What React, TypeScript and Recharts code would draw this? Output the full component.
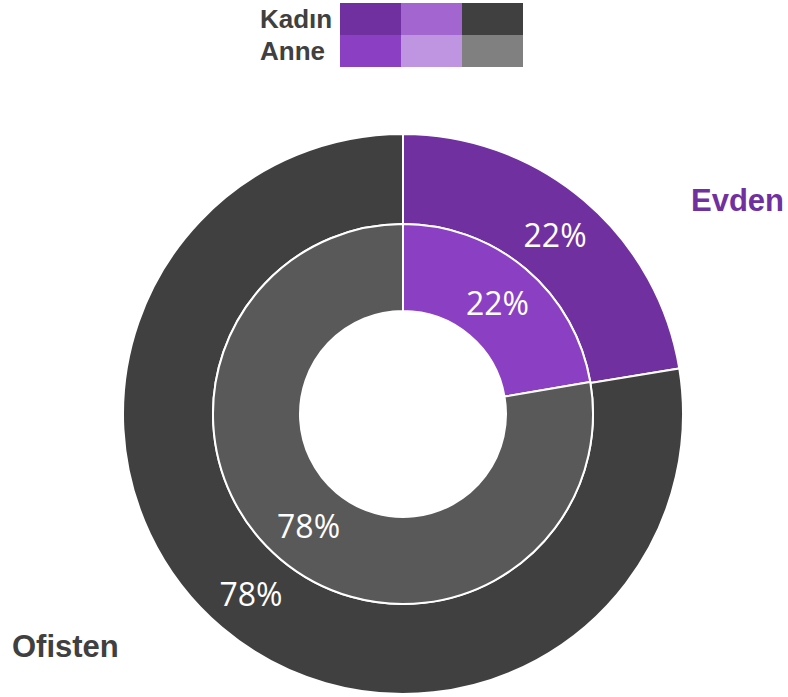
import React from 'react';
import { PieChart, Pie, Cell } from 'recharts';

const categories = ['Evden', 'Ofisten'];
const kadinValues = [22.4, 77.6];
const anneValues = [22.3, 77.7];
const seriesNames = ['Kadın', 'Anne'];

const kadinColors = ['#7030A0', '#A366D1', '#404040'];
const anneColors = ['#8B40C4', '#BF94E0', '#808080'];

const kadinData = categories.map((name, i) => ({ name, value: kadinValues[i] }));
const anneData = categories.map((name, i) => ({ name, value: anneValues[i] }));

const RAD = Math.PI / 180;

const renderPct = (props: any) => {
  const { cx, cy, midAngle, innerRadius, outerRadius, percent } = props;
  const r = (innerRadius + outerRadius) / 2;
  const x = cx + r * Math.cos(-midAngle * RAD);
  const y = cy + r * Math.sin(-midAngle * RAD);
  return (
    <text
      x={x}
      y={y}
      fill="#ffffff"
      textAnchor="middle"
      dominantBaseline="central"
      fontFamily="'Open Sans', sans-serif"
      fontSize={32}
    >
      {`${Math.round(percent * 100)}%`}
    </text>
  );
};

const legendRows = [
  { label: seriesNames[0], colors: kadinColors },
  { label: seriesNames[1], colors: anneColors },
];

export default function App() {
  return (
    <div style={{ position: 'absolute', left: 0, top: 0, width: 788, height: 697, background: '#fff' }}>
      <PieChart width={788} height={697} margin={{ top: 0, right: 0, bottom: 0, left: 0 }}>
        <Pie
          data={kadinData}
          dataKey="value"
          cx={403}
          cy={414}
          innerRadius={190}
          outerRadius={280}
          startAngle={90}
          endAngle={-270}
          stroke="#ffffff"
          strokeWidth={2}
          label={renderPct}
          labelLine={false}
          isAnimationActive={false}
        >
          {kadinData.map((d, i) => (
            <Cell key={d.name} fill={i === 0 ? kadinColors[0] : kadinColors[2]} />
          ))}
        </Pie>
        <Pie
          data={anneData}
          dataKey="value"
          cx={403}
          cy={414}
          innerRadius={103}
          outerRadius={190}
          startAngle={90}
          endAngle={-270}
          stroke="#ffffff"
          strokeWidth={2}
          label={renderPct}
          labelLine={false}
          isAnimationActive={false}
        >
          {anneData.map((d, i) => (
            <Cell key={d.name} fill={i === 0 ? anneColors[0] : '#595959'} />
          ))}
        </Pie>
      </PieChart>

      {/* legend */}
      <div style={{ position: 'absolute', left: 260, top: 3 }}>
        {legendRows.map((row) => (
          <div key={row.label} style={{ display: 'flex', height: 32 }}>
            <div
              style={{
                width: 80,
                textAlign: 'left',
                fontFamily: "'Liberation Sans', Arial, sans-serif",
                fontWeight: 'bold',
                fontSize: 26,
                lineHeight: '32px',
                color: '#404040',
              }}
            >
              {row.label}
            </div>
            {row.colors.map((c) => (
              <div key={c} style={{ width: 61, height: 32, background: c }} />
            ))}
          </div>
        ))}
      </div>

      <div
        style={{
          position: 'absolute',
          left: 691,
          top: 183,
          fontFamily: "'Liberation Sans', Arial, sans-serif",
          fontWeight: 'bold',
          fontSize: 31,
          color: '#7030A0',
        }}
      >
        {categories[0]}
      </div>
      <div
        style={{
          position: 'absolute',
          left: 12,
          top: 629,
          fontFamily: "'Liberation Sans', Arial, sans-serif",
          fontWeight: 'bold',
          fontSize: 31,
          color: '#404040',
        }}
      >
        {categories[1]}
      </div>
    </div>
  );
}
